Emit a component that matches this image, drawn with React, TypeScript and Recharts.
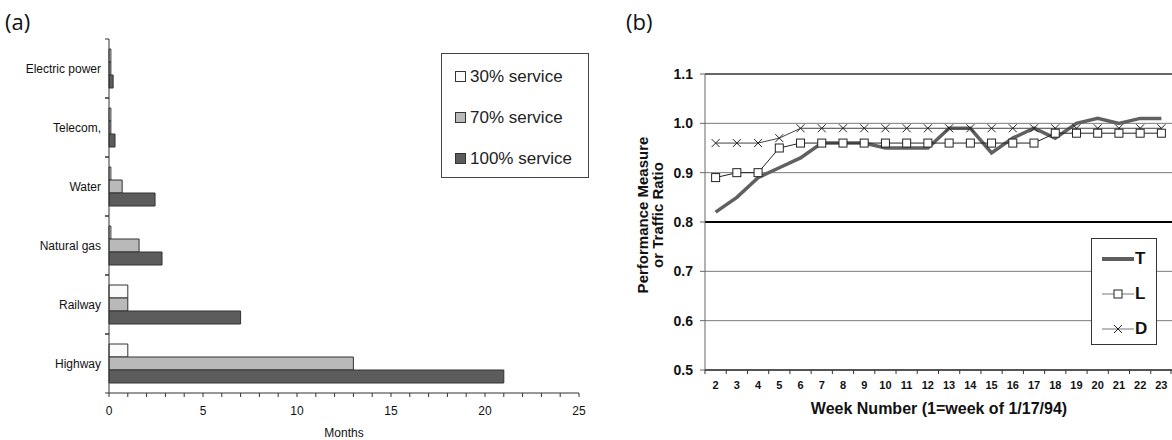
import React from "react";
import {
    BarChart,
    Bar,
    XAxis,
    YAxis,
    Legend,
    LineChart,
    Line,
    CartesianGrid,
    ReferenceLine,
} from "recharts";

// ---- panel (a): restoration time per lifeline ----
const categories = ["Electric power", "Telecom,", "Water", "Natural gas", "Railway", "Highway"];
const service30 = [0.1, 0.1, 0.1, 0.1, 1, 1];
const service70 = [0.1, 0.1, 0.7, 1.6, 1, 13];
const service100 = [0.22, 0.32, 2.45, 2.82, 7, 21];
const monthTicks = [0, 1, 2, 3, 4, 5, 6, 7, 8, 9, 10, 11, 12, 13, 14, 15, 16, 17, 18, 19, 20, 21, 22, 23, 24, 25];

// ---- panel (b): weekly performance ----
const weeks = ["2", "3", "4", "5", "6", "7", "8", "9", "10", "11", "12", "13", "14", "15", "16", "17", "18", "19", "20", "21", "22", "23"];
const seriesT = [0.82, 0.85, 0.89, 0.91, 0.93, 0.96, 0.96, 0.96, 0.95, 0.95, 0.95, 0.99, 0.99, 0.94, 0.97, 0.99, 0.97, 1.0, 1.01, 1.0, 1.01, 1.01];
const seriesL = [0.89, 0.9, 0.9, 0.95, 0.96, 0.96, 0.96, 0.96, 0.96, 0.96, 0.96, 0.96, 0.96, 0.96, 0.96, 0.96, 0.98, 0.98, 0.98, 0.98, 0.98, 0.98];
const seriesD = [0.96, 0.96, 0.96, 0.97, 0.99, 0.99, 0.99, 0.99, 0.99, 0.99, 0.99, 0.99, 0.99, 0.99, 0.99, 0.99, 0.99, 0.99, 0.99, 0.99, 0.99, 0.99];
const ratioTicks = [0.5, 0.6, 0.7, 0.8, 0.9, 1.0, 1.1];

const FONT = "'Liberation Sans', Arial, Helvetica, sans-serif";

const barData = categories.map((name, i) => ({
    name,
    s30: service30[i],
    s70: service70[i],
    s100: service100[i],
}));

const lineData = weeks.map((week, i) => ({
    week,
    T: seriesT[i],
    L: seriesL[i],
    D: seriesD[i],
}));

const barSeries = [
    { key: "s30", name: "30% service", fill: "#fafafa" },
    { key: "s70", name: "70% service", fill: "#b9b9b9" },
    { key: "s100", name: "100% service", fill: "#5c5c5c" },
];

// layout of panel (a)
const A_TOP = 39;
const A_BOTTOM = 393;
const A_BAND = (A_BOTTOM - A_TOP) / categories.length;

// layout of panel (b)
const B_LEFT = 105;
const B_WIDTH = 572;
const WEEK_BAND = (B_WIDTH - B_LEFT) / weeks.length;

const MonthTick = (props: any) => {
    const { x, y, payload } = props;
    const v = payload.value;
    return (
        <g>
            <line x1={x} x2={x} y1={y} y2={y + 4} stroke="#333" />
            {v % 5 === 0 && (
                <text x={x} y={y + 22} textAnchor="middle" fontSize={12} fontFamily={FONT} fill="#111">
                    {v}
                </text>
            )}
        </g>
    );
};

const CategoryTick = (props: any) => {
    const { x, y, payload } = props;
    return (
        <g>
            <line x1={x - 4} x2={x} y1={y - A_BAND / 2} y2={y - A_BAND / 2} stroke="#333" />
            <line x1={x - 4} x2={x} y1={y + A_BAND / 2} y2={y + A_BAND / 2} stroke="#333" />
            <text x={x - 8} y={y} dy="0.35em" textAnchor="end" fontSize={12} fontFamily={FONT} fill="#111">
                {payload.value}
            </text>
        </g>
    );
};

const BarLegend = () => (
    <div
        style={{
            boxSizing: "border-box",
            width: 148,
            height: 125,
            border: "1px solid #444",
            background: "#fff",
            paddingTop: 2,
            paddingLeft: 13,
            fontFamily: FONT,
        }}
    >
        {barSeries.map((s) => (
            <div key={s.key} style={{ height: 41, display: "flex", alignItems: "center" }}>
                <span
                    style={{
                        display: "inline-block",
                        boxSizing: "border-box",
                        width: 11,
                        height: 11,
                        background: s.fill,
                        border: "1px solid #333",
                        marginRight: 4,
                    }}
                />
                <span style={{ fontSize: 17, color: "#222" }}>{s.name}</span>
            </div>
        ))}
    </div>
);

const WeekTick = (props: any) => {
    const { x, y, payload, index } = props;
    return (
        <g>
            <line x1={x - WEEK_BAND / 2} x2={x - WEEK_BAND / 2} y1={y} y2={y + 4} stroke="#333" />
            {index === weeks.length - 1 && (
                <line x1={x + WEEK_BAND / 2 - 1} x2={x + WEEK_BAND / 2 - 1} y1={y} y2={y + 4} stroke="#333" />
            )}
            <text x={x} y={y + 19} textAnchor="middle" fontSize={11} fontWeight="bold" fontFamily={FONT} fill="#111">
                {payload.value}
            </text>
        </g>
    );
};

const SquareDot = (props: any) => {
    const { cx, cy } = props;
    if (cx == null || cy == null) return null;
    return <rect x={cx - 4} y={cy - 4} width={8} height={8} fill="#fff" stroke="#222" strokeWidth={1} />;
};

const CrossDot = (props: any) => {
    const { cx, cy } = props;
    if (cx == null || cy == null) return null;
    return (
        <g stroke="#222" strokeWidth={1}>
            <line x1={cx - 4} y1={cy - 4} x2={cx + 4} y2={cy + 4} />
            <line x1={cx - 4} y1={cy + 4} x2={cx + 4} y2={cy - 4} />
        </g>
    );
};

const LineLegend = () => (
    <div
        style={{
            boxSizing: "border-box",
            width: 66,
            height: 107,
            border: "1px solid #333",
            background: "#fff",
            paddingTop: 2,
            paddingLeft: 10,
            fontFamily: FONT,
        }}
    >
        {["T", "L", "D"].map((k) => (
            <div key={k} style={{ height: 35, display: "flex", alignItems: "center" }}>
                <svg width={32} height={12} style={{ marginRight: 1 }}>
                    {k === "T" ? (
                        <line x1={0} x2={32} y1={6} y2={6} stroke="#5e5e5e" strokeWidth={4} />
                    ) : (
                        <line x1={0} x2={32} y1={6} y2={6} stroke="#777" strokeWidth={1} />
                    )}
                    {k === "L" && <rect x={12} y={2} width={8} height={8} fill="#fff" stroke="#222" />}
                    {k === "D" && (
                        <g stroke="#222">
                            <line x1={12} y1={2} x2={20} y2={10} />
                            <line x1={12} y1={10} x2={20} y2={2} />
                        </g>
                    )}
                </svg>
                <span style={{ fontSize: 17, fontWeight: "bold", color: "#111" }}>{k}</span>
            </div>
        ))}
    </div>
);

const YTitle = () => (
    <text
        transform="translate(48,215) rotate(-90)"
        textAnchor="middle"
        fontSize={15}
        fontWeight="bold"
        fontFamily={FONT}
        fill="#111"
    >
        <tspan x={0} y={0}>Performance Measure</tspan>
        <tspan x={0} y={15}>or Traffic Ratio</tspan>
    </text>
);

const XTitle = () => (
    <text x={339} y={414} textAnchor="middle" fontSize={16} fontWeight="bold" fontFamily={FONT} fill="#111">
        Week Number (1=week of 1/17/94)
    </text>
);

const MonthsTitle = () => (
    <text x={344} y={437} textAnchor="middle" fontSize={12} fontFamily={FONT} fill="#111">
        Months
    </text>
);

export default function App() {
    return (
        <div
            style={{
                position: "absolute",
                left: 0,
                top: 0,
                width: 1172,
                height: 440,
                background: "#fff",
                fontFamily: FONT,
            }}
        >
            <div style={{ position: "absolute", left: 5, top: 6, fontSize: 22, fontFamily: "'Open Sans', sans-serif", color: "#111" }}>
                (a)
            </div>
            <div style={{ position: "absolute", left: 626, top: 6, fontSize: 22, fontFamily: "'Open Sans', sans-serif", color: "#111" }}>
                (b)
            </div>

            <div style={{ position: "absolute", left: 0, top: 0 }}>
                <BarChart
                    width={600}
                    height={440}
                    data={barData}
                    layout="vertical"
                    margin={{ top: A_TOP, right: 21, bottom: 2, left: 0 }}
                    barSize={13}
                    barGap={0}
                >
                    <XAxis
                        type="number"
                        domain={[0, 25]}
                        ticks={monthTicks}
                        interval={0}
                        height={45}
                        tickLine={false}
                        tickSize={0}
                        tickMargin={0}
                        axisLine={{ stroke: "#333" }}
                        tick={<MonthTick />}
                        label={{ content: MonthsTitle }}
                    />
                    <YAxis
                        type="category"
                        dataKey="name"
                        width={109}
                        tickLine={false}
                        tickSize={0}
                        tickMargin={0}
                        axisLine={{ stroke: "#333" }}
                        tick={<CategoryTick />}
                        interval={0}
                    />
                    <Legend
                        layout="horizontal"
                        verticalAlign="middle"
                        align="center"
                        wrapperStyle={{ left: 441, top: 53, width: 148, height: 125 }}
                        content={<BarLegend />}
                    />
                    {barSeries.map((s) => (
                        <Bar
                            key={s.key}
                            dataKey={s.key}
                            name={s.name}
                            fill={s.fill}
                            stroke="#333"
                            strokeWidth={1}
                            isAnimationActive={false}
                        />
                    ))}
                </BarChart>
            </div>

            <div style={{ position: "absolute", left: 600, top: 0 }}>
                <LineChart
                    width={B_WIDTH}
                    height={440}
                    data={lineData}
                    margin={{ top: 74, right: 0, bottom: 20, left: 0 }}
                >
                    <CartesianGrid horizontal vertical={false} stroke="#7a7a7a" />
                    <ReferenceLine y={1.1} stroke="#666" strokeWidth={2} />
                    <ReferenceLine y={0.8} stroke="#000" strokeWidth={2} />
                    <XAxis
                        dataKey="week"
                        interval={0}
                        height={50}
                        padding={{ left: WEEK_BAND / 2, right: WEEK_BAND / 2 }}
                        tickLine={false}
                        tickSize={0}
                        tickMargin={0}
                        axisLine={{ stroke: "#333", strokeWidth: 1.5 }}
                        tick={<WeekTick />}
                        label={{ content: XTitle }}
                    />
                    <YAxis
                        type="number"
                        domain={[0.5, 1.1]}
                        ticks={ratioTicks}
                        interval={0}
                        width={B_LEFT}
                        tickSize={5}
                        tickMargin={7}
                        tickFormatter={(v: number) => v.toFixed(1)}
                        tick={{ fontSize: 14, fontWeight: "bold", fill: "#111", fontFamily: FONT }}
                        axisLine={{ stroke: "#666" }}
                        tickLine={{ stroke: "#666" }}
                        label={{ content: YTitle }}
                    />
                    <Legend
                        layout="horizontal"
                        verticalAlign="middle"
                        align="center"
                        wrapperStyle={{ left: 491, top: 238, width: 66, height: 107 }}
                        content={<LineLegend />}
                    />
                    <Line
                        dataKey="T"
                        stroke="#606060"
                        strokeWidth={3.5}
                        dot={false}
                        isAnimationActive={false}
                    />
                    <Line
                        dataKey="D"
                        stroke="#444"
                        strokeWidth={1}
                        dot={<CrossDot />}
                        isAnimationActive={false}
                    />
                    <Line
                        dataKey="L"
                        stroke="#222"
                        strokeWidth={1}
                        dot={<SquareDot />}
                        isAnimationActive={false}
                    />
                </LineChart>
            </div>
        </div>
    );
}
